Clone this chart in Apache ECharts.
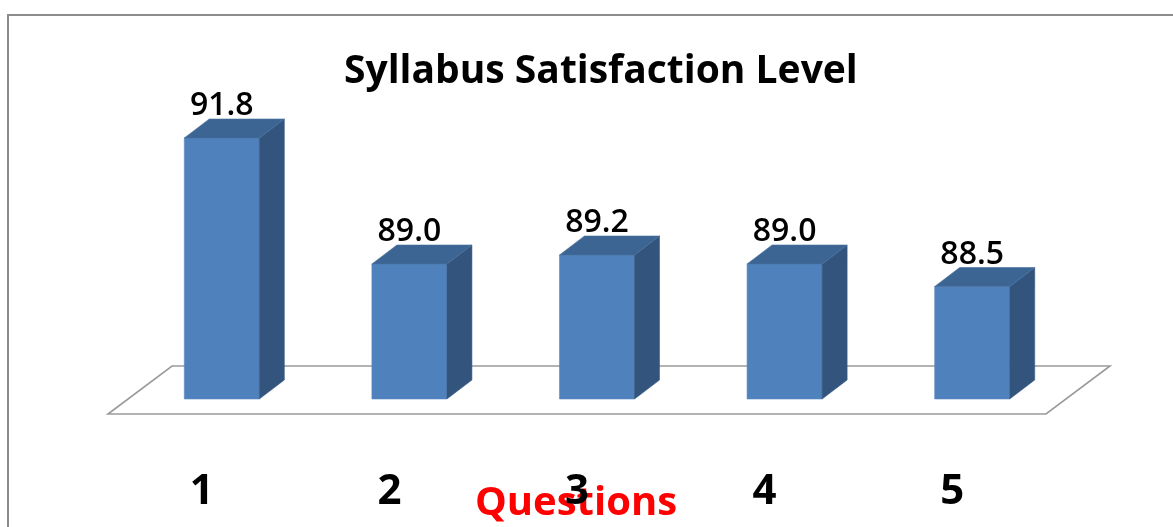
<!DOCTYPE html>
<html>
<head>
<meta charset="utf-8">
<script src="https://cdn.jsdelivr.net/npm/echarts@6/dist/echarts.min.js"></script>
<style>
  html, body { margin: 0; padding: 0; background: #fff; }
  #chart { width: 1173px; height: 527px; }
</style>
</head>
<body>
<div id="chart"></div>
<script>
const questions = ['1', '2', '3', '4', '5'];
const satisfaction = [91.8, 89.0, 89.2, 89.0, 88.5];
const yMin = 86;
const yMax = 92;

const FONT = "'Open Sans', 'Liberation Sans', sans-serif";
const FRONT = '#4f81bd';
const SIDE = '#33547c';
const TOP = '#3d6594';
const DEPTH = [25, -19];  // bar depth offset
const FLOOR_FRONT = [-20, 15];
const FLOOR_BACK = [44, -33];

function renderBar(params, api) {
  const i = api.value(0);
  const v = api.value(1);
  const top = api.coord([i, v]);
  const base = api.coord([i, yMin]);
  const w = api.size([1, 0])[0] * 0.4;
  const x0 = top[0] - w / 2, x1 = top[0] + w / 2;
  const y0 = top[1], y1 = base[1];
  const dx = DEPTH[0], dy = DEPTH[1];
  return {
    type: 'group',
    children: [
      { type: 'polygon', shape: { points: [[x0, y0], [x1, y0], [x1, y1], [x0, y1]] },
        style: { fill: FRONT, stroke: '#5a8ac4', lineWidth: 0.6 } },
      { type: 'polygon', shape: { points: [[x1, y0], [x1 + dx, y0 + dy], [x1 + dx, y1 + dy], [x1, y1]] },
        style: { fill: SIDE, stroke: '#3b5d86', lineWidth: 0.6 } },
      { type: 'polygon', shape: { points: [[x0, y0], [x0 + dx, y0 + dy], [x1 + dx, y0 + dy], [x1, y0]] },
        style: { fill: TOP, stroke: '#46709f', lineWidth: 0.6 } },
      { type: 'text',
        style: { text: v.toFixed(1), x: top[0], y: y0 - 32, align: 'center', verticalAlign: 'middle',
                 font: '600 32px ' + FONT, fill: '#000' } }
    ]
  };
}

function renderFloor(params, api) {
  const cs = params.coordSys;
  const left = cs.x, right = cs.x + cs.width, bottom = cs.y + cs.height;
  return {
    type: 'polygon',
    shape: { points: [
      [left + FLOOR_FRONT[0], bottom + FLOOR_FRONT[1]],
      [right + FLOOR_FRONT[0], bottom + FLOOR_FRONT[1]],
      [right + FLOOR_BACK[0], bottom + FLOOR_BACK[1]],
      [left + FLOOR_BACK[0], bottom + FLOOR_BACK[1]]
    ] },
    style: { fill: '#fff', stroke: '#9a9a9a', lineWidth: 1.6 }
  };
}

const chart = echarts.init(document.getElementById('chart'), null, { renderer: 'canvas' });
chart.setOption({
  animation: false,
  title: {
    text: 'Syllabus Satisfaction Level',
    left: 339,
    top: 47,
    textStyle: { fontFamily: FONT, fontSize: 39, fontWeight: 'bold', color: '#000' }
  },
  graphic: [{
    type: 'rect',
    shape: { x: 8, y: 15, width: 1200, height: 600 },
    style: { fill: null, stroke: '#8c8c8c', lineWidth: 2 },
    z: 100
  }],
  grid: { left: 128, right: 107, top: 129, bottom: 128, outerBoundsMode: 'none', containLabel: false },
  xAxis: {
    type: 'category',
    data: questions,
    axisLine: { show: false },
    axisTick: { show: false },
    axisLabel: {
      margin: 72,
      fontFamily: FONT, fontSize: 42, fontWeight: 'bold', color: '#000',
      padding: [0, 40, 0, 0]
    },
    name: 'Questions',
    nameLocation: 'middle',
    nameGap: 85,
    nameMoveOverlap: false,
    nameTextStyle: {
      fontFamily: FONT, fontSize: 40, fontWeight: 'bold', color: '#ff0000',
      padding: [0, 42, 0, 0]
    }
  },
  yAxis: {
    type: 'value',
    min: yMin,
    max: yMax,
    show: false
  },
  series: [
    {
      type: 'custom',
      renderItem: renderFloor,
      data: [[0, yMin]],
      z: 1,
      silent: true
    },
    {
      type: 'custom',
      renderItem: renderBar,
      data: satisfaction.map((v, i) => [i, v]),
      z: 2
    }
  ]
});
</script>
</body>
</html>
